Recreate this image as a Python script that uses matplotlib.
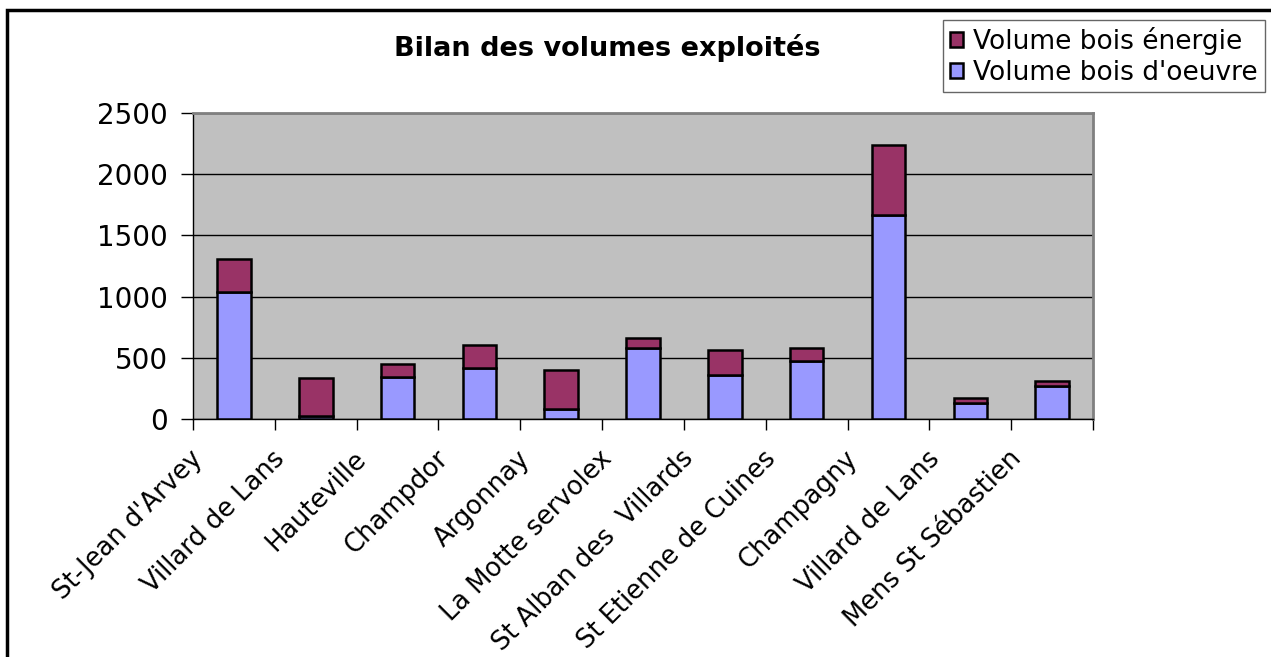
import numpy as np
import matplotlib.pyplot as plt
from matplotlib.patches import Rectangle
from matplotlib.transforms import ScaledTranslation

communes = ["St-Jean d'Arvey", "Villard de Lans", "Hauteville", "Champdor",
            "Argonnay", "La Motte servolex", "St Alban des  Villards",
            "St Etienne de Cuines", "Champagny", "Villard de Lans",
            "Mens St Sébastien"]
bois_oeuvre = [1040, 25, 346, 420, 82, 577, 360, 474, 1667, 128, 272]
bois_energie = [265, 307, 101, 185, 318, 85, 204, 103, 571, 41, 41]

W, H = 1271, 657
fig = plt.figure(figsize=(W/100, H/100), dpi=100)
ax = fig.add_axes([193/W, 1-419/H, (1093-193)/W, (419-113)/H])

# cadre du graphique (coupe a droite et en bas)
fig.patches.append(Rectangle((7/W, -0.1), 2, 1.1-10/H, transform=fig.transFigure,
                             fill=False, edgecolor='black', linewidth=2.5))

x = np.arange(len(communes))
ax.set_facecolor('#C0C0C0')
ax.bar(x, bois_oeuvre, width=0.41, color='#9999FF', edgecolor='black', linewidth=1.8,
       label="Volume bois d'oeuvre", zorder=3)
ax.bar(x, bois_energie, width=0.41, bottom=bois_oeuvre, color='#993366', edgecolor='black',
       linewidth=1.8, label="Volume bois énergie", zorder=3)

ax.set_xlim(-0.5, len(communes)-0.5)
ax.set_ylim(0, 2500)
ax.set_yticks(np.arange(0, 2501, 500))
ax.yaxis.grid(True, color='black', linewidth=1.0, zorder=1)
ax.set_axisbelow(True)

ax.set_xticks(np.arange(-0.5, len(communes)), labels=[])
ax.set_xticks(x, labels=communes, minor=True)
ax.tick_params(axis='x', which='minor', length=0, labelsize=18.5)
ax.tick_params(axis='x', which='major', length=8, width=1, direction='out')
ax.tick_params(axis='y', length=9, width=1, direction='out', pad=9, labelsize=20)

off = ScaledTranslation(-44/100, -22/100, fig.dpi_scale_trans)
for lab in ax.get_xticklabels(minor=True):
    lab.set_rotation(45)
    lab.set_ha('right')
    lab.set_va('top')
    lab.set_rotation_mode('anchor')
    lab.set_transform(lab.get_transform() + off)

ax.spines['top'].set_color('#808080')
ax.spines['right'].set_color('#808080')
ax.spines['top'].set_linewidth(2)
ax.spines['right'].set_linewidth(2)
ax.spines['left'].set_linewidth(1)
ax.spines['bottom'].set_linewidth(1)

fig.text(607/W, 1-48/H, "Bilan des volumes exploités", ha='center', va='center',
         fontsize=19.5, fontweight='bold')

h, l = ax.get_legend_handles_labels()
leg = fig.legend(h[::-1], l[::-1], loc='upper left', bbox_to_anchor=(943/W, 1-20/H),
                 fontsize=19, frameon=True, fancybox=False, edgecolor='#404040',
                 handlelength=0.5, handleheight=0.5, handletextpad=0.4,
                 borderpad=0.25, labelspacing=0.2, borderaxespad=0)
leg.get_frame().set_linewidth(1)

fig.savefig('out.png', dpi=100)
